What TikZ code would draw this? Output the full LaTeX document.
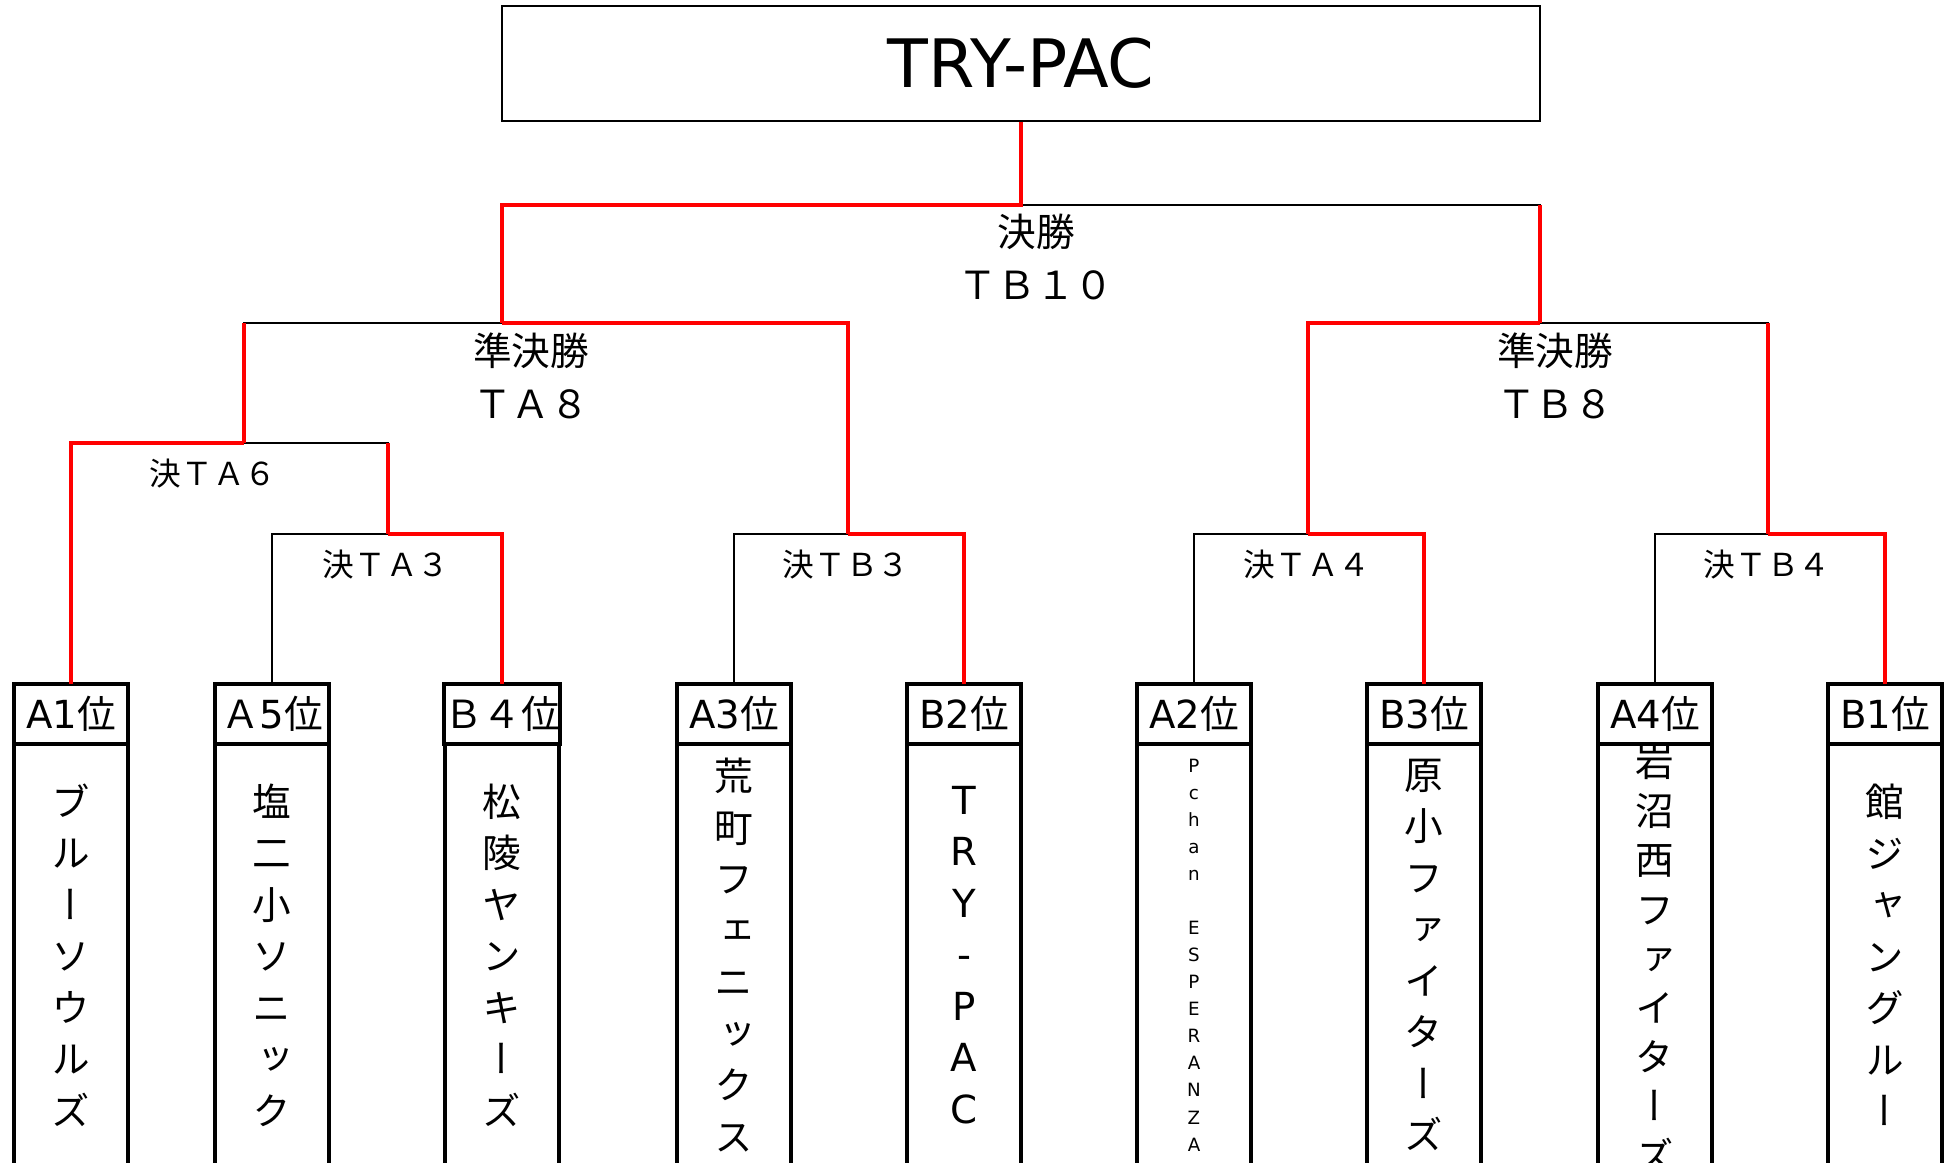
\documentclass[tikz,border=0pt]{standalone}
\usepackage{fontspec}
\setmainfont{Noto Sans CJK JP}
\newfontfamily\latin{DejaVu Sans}
\newfontfamily\tate[RawFeature=+vert]{Noto Sans CJK JP}
\usetikzlibrary{positioning}

\begin{document}
\begin{tikzpicture}[
	bracket/.style={line width=0.45pt},
	win/.style={red, line width=1.15pt},
	head/.style={draw, line width=0.9pt, outer sep=0pt, inner sep=0pt, minimum width=1.14cm, minimum height=0.60cm},
	namebox/.style={draw, line width=0.9pt, outer sep=0pt, inner sep=0pt, minimum width=1.14cm, minimum height=4.22cm, align=center, font=\tate\fontsize{11}{14.65}\selectfont},
	stage/.style={align=center, font=\fontsize{11}{15}\selectfont},
	match/.style={font=\fontsize{9}{11}\selectfont}]
	\useasboundingbox (0,0) rectangle (19.5,11.63);
	\begin{scope}[font=\fontsize{11}{13}\selectfont]
		\draw (10.21,10.995) node[draw, line width=0.5pt, minimum width=10.38cm, minimum height=1.15cm](champ)
					{\latin\fontsize{19}{22}\selectfont TRY-PAC};

		\draw (0.71,4.49) node[head](hA1) {{\latin A1}位};
		\draw (2.72,4.49) node[head](hA5) {Ａ{\latin 5}位};
		\draw (5.02,4.49) node[head](hB4) {Ｂ４位};
		\draw (7.34,4.49) node[head](hA3) {{\latin A3}位};
		\draw (9.64,4.49) node[head](hB2) {{\latin B2}位};
		\draw (11.94,4.49) node[head](hA2) {{\latin A2}位};
		\draw (14.24,4.49) node[head](hB3) {{\latin B3}位};
		\draw (16.55,4.49) node[head](hA4) {{\latin A4}位};
		\draw (18.85,4.49) node[head](hB1) {{\latin B1}位};

		\node[namebox, below=0pt of hA1](nA1) {ブ\\ル\\ー\\ソ\\ウ\\ル\\ズ};
		\node[namebox, below=0pt of hA5](nA5) {塩\\二\\小\\ソ\\ニ\\ッ\\ク};
		\node[namebox, below=0pt of hB4](nB4) {松\\陵\\ヤ\\ン\\キ\\ー\\ズ};
		\node[namebox, below=0pt of hA3](nA3) {荒\\町\\フ\\ェ\\ニ\\ッ\\ク\\ス};
		\node[namebox, below=0pt of hB2, font=\latin\fontsize{11}{14.65}\selectfont](nB2) {T\\R\\Y\\-\\P\\A\\C};
		\node[namebox, below=0pt of hA2, font=\latin\fontsize{5.2}{7.7}\selectfont](nA2)
					{P\\c\\h\\a\\n\\\mbox{}\\E\\S\\P\\E\\R\\A\\N\\Z\\A};
		\node[namebox, below=0pt of hB3](nB3) {原\\小\\フ\\ァ\\イ\\タ\\ー\\ズ};
		\node[namebox, below=0pt of hA4, font=\tate\fontsize{11}{14}\selectfont](nA4) {岩\\沼\\西\\フ\\ァ\\イ\\タ\\ー\\ズ};
		\node[namebox, below=0pt of hB1](nB1) {館\\ジ\\ャ\\ン\\グ\\ル\\ー};

		\coordinate (fin) at (10.21,9.58);
		\coordinate (sfA) at (5.02,8.40);
		\coordinate (sfB) at (15.40,8.40);
		\coordinate (ta6) at (2.44,7.20);
		\coordinate (ta3) at (3.88,6.29);
		\coordinate (tb3) at (8.48,6.29);
		\coordinate (ta4) at (13.08,6.29);
		\coordinate (tb4) at (17.68,6.29);

		\draw[bracket] (hA5) |- (ta3) -| (hB4);
		\draw[bracket] (hA3) |- (tb3) -| (hB2);
		\draw[bracket] (hA2) |- (ta4) -| (hB3);
		\draw[bracket] (hA4) |- (tb4) -| (hB1);
		\draw[bracket] (hA1) |- (ta6) -| (ta3);
		\draw[bracket] (ta6) |- (sfA) -| (tb3);
		\draw[bracket] (ta4) |- (sfB) -| (tb4);
		\draw[bracket] (sfA) |- (fin) -| (sfB);

		\draw[win] (hB4) |- (ta3);
		\draw[win] (hB2) |- (tb3);
		\draw[win] (hB3) |- (ta4);
		\draw[win] (hB1) |- (tb4);
		\draw[win] (hA1) |- (ta6);
		\draw[win] (ta3) -- (ta3 |- ta6);
		\draw[win] (tb3) |- (sfA);
		\draw[win] (ta6) -- (ta6 |- sfA);
		\draw[win] (ta4) |- (sfB);
		\draw[win] (tb4) -- (tb4 |- sfB);
		\draw[win] (sfA) |- (fin) -- (champ);
		\draw[win] (sfB) -- (sfB |- fin);

		\draw (10.36,9.06) node[stage](lfin) {決勝\\ＴＢ１０};
		\draw (5.31,7.87) node[stage](lsfA) {準決勝\\ＴＡ８};
		\draw (15.55,7.87) node[stage](lsfB) {準決勝\\ＴＢ８};
		\draw (2.13,6.89) node[match](lta6) {決ＴＡ６};
		\draw (3.86,5.98) node[match](lta3) {決ＴＡ３};
		\draw (8.46,5.98) node[match](ltb3) {決ＴＢ３};
		\draw (13.07,5.98) node[match](lta4) {決ＴＡ４};
		\draw (17.67,5.98) node[match](ltb4) {決ＴＢ４};
	\end{scope}
\end{tikzpicture}
\end{document}
